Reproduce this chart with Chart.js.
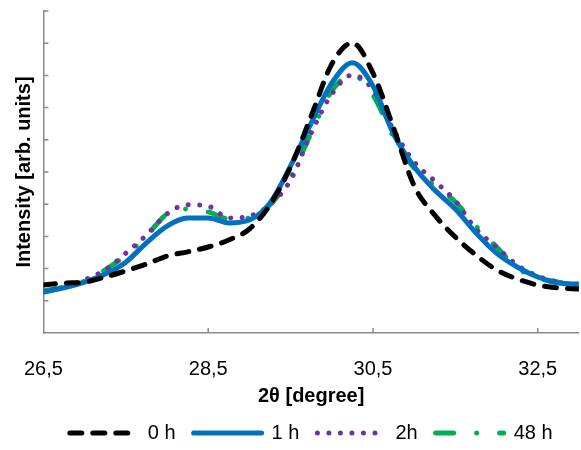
<!DOCTYPE html>
<html>
<head>
<meta charset="utf-8">
<script src="https://cdn.jsdelivr.net/npm/chart.js@4"></script>
<style>
  html, body { margin: 0; padding: 0; background: #fff; }
  #wrap { width: 581px; height: 450px; }
</style>
</head>
<body>
<div id="wrap"><canvas id="xrd_chart"></canvas></div>
<script>
// 2theta grid
const angles = [26.5, 26.75, 27.0, 27.25, 27.5, 27.75, 28.0, 28.25, 28.5, 28.75, 29.0, 29.25, 29.5,
  29.75, 30.0, 30.25, 30.5, 30.75, 31.0, 31.25, 31.5, 31.75, 32.0, 32.25, 32.5, 32.75, 33.0];

const h0 = [1.49, 1.55, 1.58, 1.74, 1.93, 2.14, 2.39, 2.52, 2.67, 2.89, 3.23, 3.98, 5.16,
  6.74, 8.35, 9.01, 8.07, 6.37, 4.57, 3.66, 2.98, 2.42, 1.96, 1.68, 1.49, 1.40, 1.37];
const h1 = [1.27, 1.40, 1.58, 1.83, 2.20, 2.80, 3.32, 3.57, 3.57, 3.42, 3.51, 4.04, 5.19,
  6.52, 7.76, 8.39, 7.67, 6.18, 5.16, 4.44, 3.85, 3.11, 2.48, 2.05, 1.74, 1.55, 1.52];
const h2 = [1.30, 1.43, 1.65, 1.96, 2.48, 3.04, 3.70, 3.98, 3.94, 3.57, 3.63, 3.98, 4.75,
  6.21, 7.42, 8.01, 7.55, 6.30, 5.31, 4.72, 4.10, 3.23, 2.67, 2.11, 1.77, 1.58, 1.46];
const h48 = [1.30, 1.43, 1.61, 1.96, 2.42, 3.01, 3.70, 3.85, 3.76, 3.54, 3.57, 3.98, 4.84,
  6.21, 7.52, 8.01, 7.39, 6.09, 5.12, 4.57, 4.07, 3.32, 2.67, 2.02, 1.71, 1.58, 1.46];

const xTicks = [26.5, 28.5, 30.5, 32.5];
const labels = ['0 h', '1 h', '2h', '48 h'];

const FONT = 'Arial, "Liberation Sans", sans-serif';
const AXIS_COLOR = '#8a8a8a';

function toPoints(ys) {
  return ys.map(function(y, i) { return {x: angles[i], y: y}; });
}

function lineSet(label, ys, color, dash) {
  return {
    label: label,
    data: toPoints(ys),
    borderColor: color,
    backgroundColor: color,
    borderWidth: 5,
    borderDash: dash,
    borderCapStyle: 'round',
    borderJoinStyle: 'round',
    pointRadius: 0,
    cubicInterpolationMode: 'monotone',
    fill: false
  };
}

// small inward tick marks like the original
const innerTicks = {
  id: 'innerTicks',
  beforeDatasetsDraw(chart) {
    const ctx = chart.ctx;
    const xs = chart.scales.x, ys = chart.scales.y;
    const area = chart.chartArea;
    ctx.save();
    ctx.strokeStyle = AXIS_COLOR;
    ctx.lineWidth = 1.5;
    ctx.beginPath();
    for (let v = 1; v <= 10; v++) {
      const py = ys.getPixelForValue(v);
      ctx.moveTo(area.left, py);
      ctx.lineTo(area.left + 5, py);
    }
    for (let i = 1; i < xTicks.length; i++) {
      const px = xs.getPixelForValue(xTicks[i]);
      ctx.moveTo(px, area.bottom);
      ctx.lineTo(px, area.bottom - 5);
    }
    ctx.stroke();
    ctx.restore();
  }
};

const config = {
  type: 'line',
  data: {
    datasets: [
      lineSet(labels[0], h0, '#000000', [12, 11]),
      lineSet(labels[1], h1, '#0070c0', []),
      lineSet(labels[2], h2, '#7030a0', [0.01, 11.5]),
      lineSet(labels[3], h48, '#00b050', [18, 23, 0.01, 23])
    ]
  },
  options: {
    responsive: true,
    maintainAspectRatio: false,
    animation: false,
    layout: { padding: { top: 11, right: 0, bottom: -3, left: 0 } },
    scales: {
      x: {
        type: 'linear',
        min: 26.5,
        max: 33.0,
        afterBuildTicks: function(scale) {
          scale.ticks = xTicks.map(function(v) { return {value: v}; });
        },
        afterFit: function(scale) { scale.height = 72; },
        grid: { display: true, drawOnChartArea: false, drawTicks: false },
        border: { display: true, color: AXIS_COLOR, width: 1.5 },
        ticks: {
          padding: 24,
          color: '#000',
          maxRotation: 0,
          font: { family: FONT, size: 20 },
          callback: function(v) { return v.toFixed(1).replace('.', ','); }
        },
        title: {
          display: true,
          text: '2θ [degree]',
          color: '#000',
          font: { family: FONT, size: 20, weight: 'bold' },
          padding: { top: 0, bottom: -3 }
        }
      },
      y: {
        min: 0,
        max: 10,
        afterFit: function(scale) { scale.width = 41; },
        grid: { display: true, drawOnChartArea: false, drawTicks: false },
        border: { display: true, color: AXIS_COLOR, width: 1.5 },
        ticks: { display: false, stepSize: 1 },
        title: {
          display: true,
          text: 'Intensity [arb. units]',
          color: '#000',
          font: { family: FONT, size: 20, weight: 'bold' },
          padding: { top: 10, bottom: 0 }
        }
      }
    },
    plugins: {
      tooltip: { enabled: false },
      legend: {
        position: 'bottom',
        fullSize: false,
        labels: {
          usePointStyle: true,
          pointStyle: 'line',
          pointStyleWidth: 68,
          padding: 18,
          color: '#000',
          font: { family: FONT, size: 20 },
          generateLabels: function(chart) {
            const items = Chart.defaults.plugins.legend.labels.generateLabels(chart);
            items.forEach(function(item) {
              const ds = chart.data.datasets[item.datasetIndex];
              item.lineDash = ds.borderDash;
              item.lineCap = 'round';
              item.lineWidth = 5;
              item.strokeStyle = ds.borderColor;
            });
            return items;
          }
        }
      }
    }
  },
  plugins: [innerTicks]
};

const xrd_chart = new Chart(document.getElementById('xrd_chart'), config);
</script>
</body>
</html>
